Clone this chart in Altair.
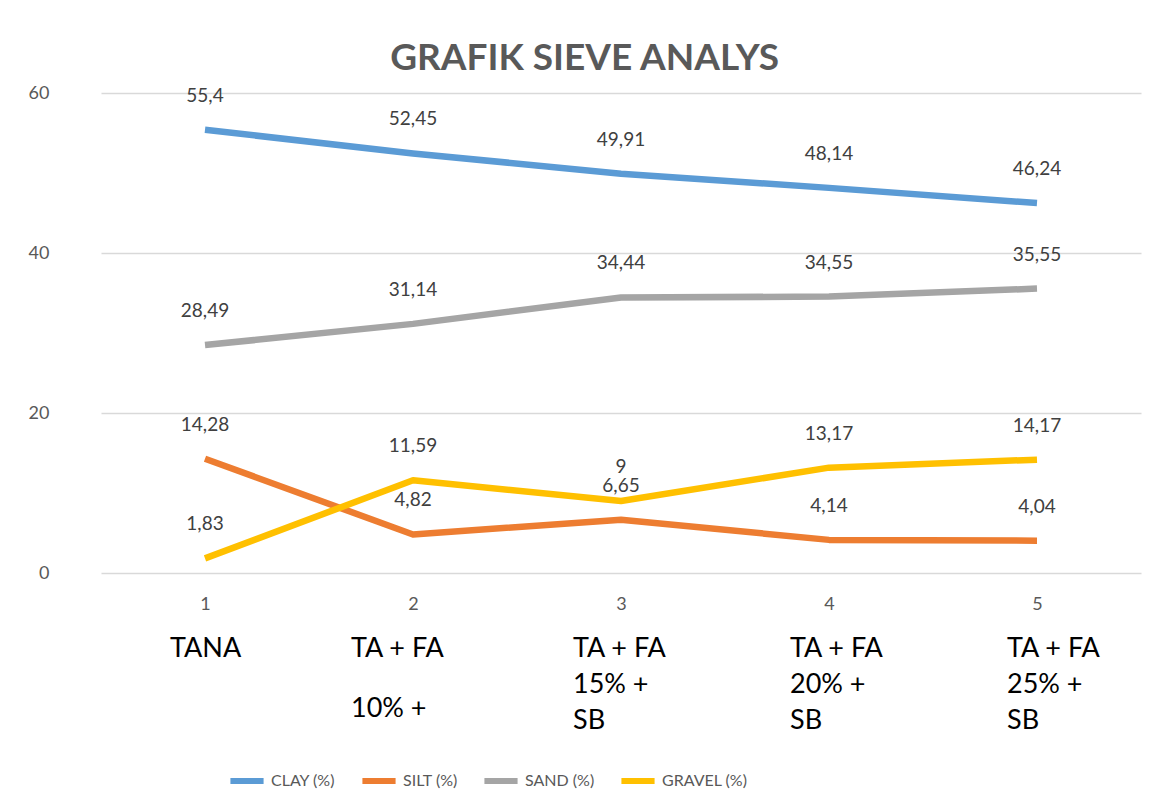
import altair as alt
import pandas as pd

categories = [1, 2, 3, 4, 5]
series_names = ["CLAY (%)", "SILT (%)", "SAND (%)", "GRAVEL (%)"]
clay = [55.4, 52.45, 49.91, 48.14, 46.24]
silt = [14.28, 4.82, 6.65, 4.14, 4.04]
sand = [28.49, 31.14, 34.44, 34.55, 35.55]
gravel = [1.83, 11.59, 9, 13.17, 14.17]
colors = ["#5B9BD5", "#ED7D31", "#A5A5A5", "#FFC000"]
sample_labels = ["TANA", "TA + FA\n10% +", "TA + FA\n15% +\nSB", "TA + FA\n20% +\nSB", "TA + FA\n25% +\nSB"]

# per-label text-box styling (horizontal offset, line spacing)
label_dx = [-35, -62, -48, -39, -30]
label_line_height = [36, 60, 36, 36, 36]

FONT = "Lato"
rows = []
for name, vals in zip(series_names, [clay, silt, sand, gravel]):
    for c, v in zip(categories, vals):
        rows.append({"cat": c, "series": name, "value": v,
                     "label": f"{v:g}".replace(".", ",")})
df = pd.DataFrame(rows)
lab_df = pd.DataFrame({"cat": categories, "text": sample_labels})

x = alt.X("cat:O", scale=alt.Scale(type="point", padding=0.5),
          axis=alt.Axis(title=None, labelAngle=0, ticks=False, domain=False,
                        labelFontSize=18, labelColor="#595959", labelFont=FONT,
                        labelPadding=22, grid=False))
y = alt.Y("value:Q", scale=alt.Scale(domain=[0, 60], nice=False),
          axis=alt.Axis(title=None, values=[0, 20, 40, 60], ticks=False, domain=False,
                        labelFontSize=18, labelColor="#595959", labelFont=FONT,
                        labelPadding=52, gridColor="#D9D9D9", gridWidth=1.5))
color = alt.Color("series:N", scale=alt.Scale(domain=series_names, range=colors),
                  legend=alt.Legend(title=None, orient="none", legendX=126, legendY=668,
                                    direction="horizontal", symbolType="stroke",
                                    symbolStrokeWidth=6, symbolSize=1100,
                                    labelFontSize=16, labelColor="#595959", labelFont=FONT,
                                    columnPadding=14, labelOffset=4))

lines = alt.Chart(df).mark_line(strokeWidth=6.5, strokeJoin="round").encode(
    x=x, y=y, color=color, order="cat:O")
texts = alt.Chart(df).mark_text(fontSize=19, color="#404040", font=FONT, dy=-34,
                                baseline="middle").encode(
    x=alt.X("cat:O"), y=alt.Y("value:Q"), text="label:N")

label_layers = []
for c, dx, lh in zip(categories, label_dx, label_line_height):
    label_layers.append(
        alt.Chart(lab_df).transform_filter(f"datum.cat == {c}").mark_text(
            fontSize=27, font=FONT, color="#000000", align="left", dx=dx,
            baseline="top", lineBreak="\n", lineHeight=lh).encode(
            x=alt.X("cat:O"), y=alt.value(543), text="text:N"))

chart = alt.layer(lines, texts, *label_layers).properties(
    width=1040, height=480,
    title=alt.Title("GRAFIK SIEVE ANALYS", fontSize=37, fontWeight="bold",
                    color="#595959", font=FONT, offset=6, anchor="middle",
                    frame="bounds"),
    padding={"left": 20, "top": 32, "right": 5, "bottom": 5},
).configure_view(stroke=None)

chart.save("out.html", embed_options={"renderer": "svg", "actions": False})
